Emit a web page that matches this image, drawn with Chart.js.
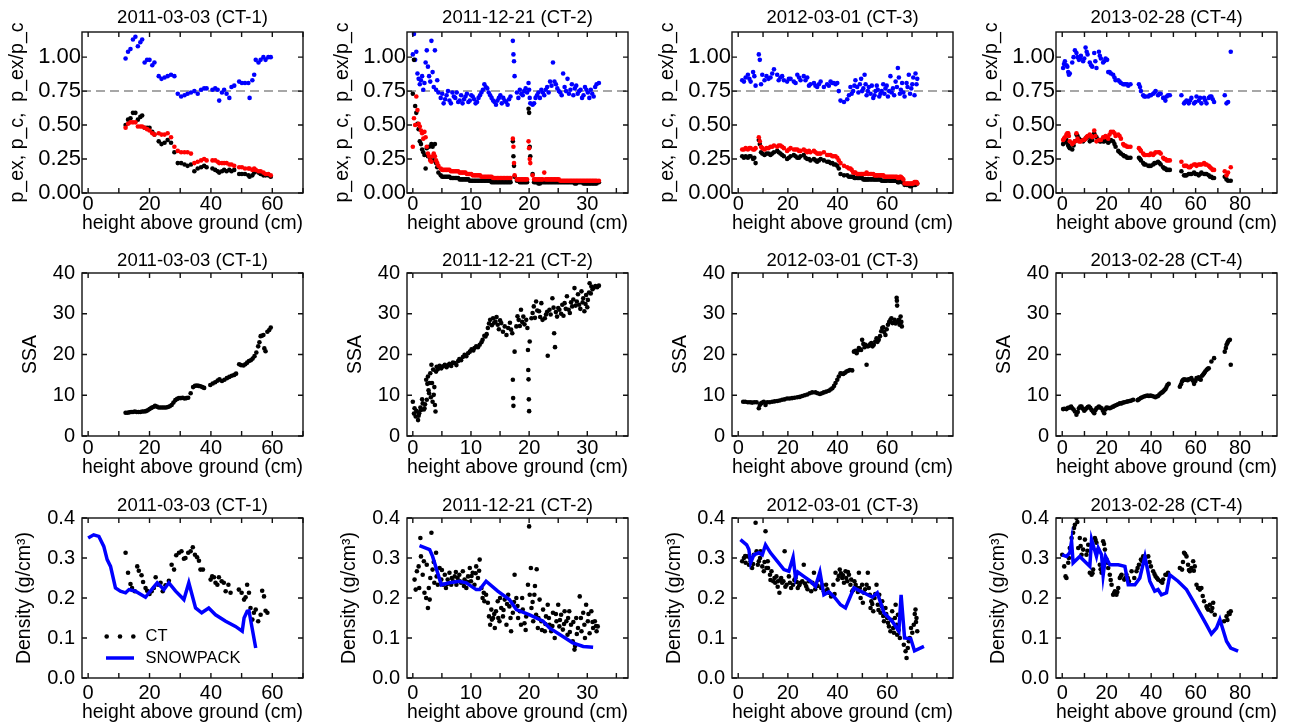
<!DOCTYPE html>
<html>
<head>
<meta charset="utf-8">
<script src="https://cdn.jsdelivr.net/npm/chart.js@4.4.1/dist/chart.umd.min.js"></script>
<style>
  body { margin: 0; background: #fff; width: 1292px; height: 728px; position: relative; overflow: hidden; }
  canvas { position: absolute; }
</style>
</head>
<body>
<script>
// ---- panel titles / axis texts
var panelTitles = ['2011-03-03 (CT-1)', '2011-12-21 (CT-2)', '2012-03-01 (CT-3)', '2013-02-28 (CT-4)'];
var xTitle = 'height above ground (cm)';
var yTitles = ['p_ex, p_c,  p_ex/p_c', 'SSA', 'Density (g/cm\u00b3)'];

// ---- tick values
var xTicks = [
    [0, 10, 20, 30, 40, 50, 60, 70],
    [0, 5, 10, 15, 20, 25, 30, 35],
    [0, 10, 20, 30, 40, 50, 60, 70, 80],
    [0, 10, 20, 30, 40, 50, 60, 70, 80, 90]
];
var xLabels = [[0, 20, 40, 60], [0, 10, 20, 30], [0, 20, 40, 60], [0, 20, 40, 60, 80]];
var xRanges = [[-2, 70], [-1, 37], [-2.5, 86.5], [-2.8, 96.6]];
var yTicksRatio = [0, 0.25, 0.5, 0.75, 1.0];
var yTicksSSA = [0, 10, 20, 30, 40];
var yTicksDens = [0, 0.1, 0.2, 0.3, 0.4];
var refRatio = 0.75;

// ---- row 1: [height, p_ex, p_c, p_ex/p_c]
var ct1Rows = [
    [12.2,.50,.48,.99],[13.0,.54,.51,1.04],[13.8,.55,.52,1.06],[14.6,.59,.52,1.13],[15.4,.59,.52,1.15],
    [16.2,.54,.49,1.08],[17.0,.56,.49,1.11],[17.6,.57,.49,1.13],[18.4,.48,.48,.96],[19.2,.48,.47,.98],
    [20.0,.48,.46,.98],[20.9,.45,.44,.94],[21.6,.43,.43,.96],[23.0,.38,.44,.86],[23.9,.36,.43,.84],
    [24.9,.37,.43,.85],[25.9,.39,.44,.86],[27.0,.37,.41,.87],[28.1,.30,.34,.86],[29.2,.22,.31,.73],
    [30.3,.22,.30,.71],[31.4,.21,.30,.72],[32.4,.20,.30,.73],[33.5,.21,.29,.74],[34.6,.16,.22,.75],
    [35.7,.18,.23,.73],[36.8,.19,.24,.76],[37.8,.20,.25,.77],[38.6,.19,.24,.77],[40.5,.18,.24,.76],
    [41.4,.17,.24,.77],[42.2,.16,.23,.76],[42.7,.15,.22,.68],[43.6,.16,.22,.74],[44.3,.17,.22,.76],
    [45.1,.16,.22,.73],[46.0,.17,.21,.70],[46.7,.16,.21,.78],[47.6,.17,.20,.79],[49.2,.14,.19,.82],
    [50.1,.14,.19,.81],[51.1,.14,.18,.81],[52.2,.13,.18,.81],[52.6,.12,.18,.70],[53.5,.13,.17,.83],
    [54.1,.15,.18,.87],[54.6,.16,.17,.98],[55.5,.15,.16,.96],[56.2,.14,.16,.98],[57.1,.13,.15,1.00],
    [57.8,.13,.14,.98],[58.7,.13,.14,1.00],[59.5,.12,.13,1.00]
];
var ct2Rows = [
    [0.0,.73,.34,1.02],[0.2,.98,.55,1.17],[0.4,.64,.50,.98],[0.6,.59,.71,1.04],[0.8,.51,.61,.88],
    [1.0,.47,.51,.84],[1.2,.38,.49,.80],[1.4,.36,.46,.83],[1.6,.32,.44,.86],[1.8,.30,.40,.76],
    [2.0,.28,.45,.81],[2.2,.18,.41,.96],[2.4,.33,.34,1.05],[2.6,.27,.29,.93],[2.8,.34,.27,.86],
    [3.0,.25,.24,.82],[3.2,.36,.23,1.12],[3.4,.34,.27,.89],[3.6,.24,.29,.78],[3.8,.36,.27,1.05],
    [4.0,.22,.24,.76],[4.2,.19,.22,.83],[4.4,.15,.20,.74],[4.8,.13,.18,.70],[5.3,.12,.17,.66],
    [5.8,.12,.17,.72],[6.3,.12,.17,.68],[6.8,.11,.16,.74],[7.3,.11,.16,.70],[7.8,.11,.16,.67],
    [8.3,.10,.15,.72],[8.8,.10,.15,.69],[9.3,.10,.14,.73],[9.8,.09,.14,.68],[10.3,.09,.13,.71],
    [10.8,.09,.13,.66],[11.3,.09,.13,.70],[11.8,.09,.12,.74],[12.3,.09,.12,.80],[12.8,.09,.12,.77],
    [13.3,.09,.12,.72],[13.8,.08,.11,.68],[14.3,.08,.11,.65],[14.8,.08,.11,.70],[15.3,.08,.11,.66],
    [15.8,.08,.11,.68],[16.3,.08,.11,.65],[16.8,.08,.11,.71],[17.2,.38,.40,1.12],[17.3,.27,.34,1.02],
    [17.4,.20,.22,.97],[17.5,.12,.13,.86],[17.9,.09,.10,.74],[18.4,.08,.10,.76],[18.9,.08,.10,.72],
    [19.4,.08,.10,.77],[19.9,.62,.38,.81],[20.0,.59,.33,.76],[20.1,.34,.25,.70],[20.2,.27,.22,.66],
    [20.6,.14,.13,.65],[21.1,.08,.10,.70],[21.6,.07,.10,.74],[22.1,.08,.10,.76],[22.6,.08,.15,.72],
    [23.1,.08,.10,.78],[23.6,.08,.10,.82],[24.1,.08,.10,.96],[24.6,.08,.10,.80],[25.1,.08,.10,.75],
    [25.6,.08,.09,.72],[26.1,.08,.09,.78],[26.6,.08,.09,.84],[27.1,.08,.09,.76],[27.6,.08,.09,.72],
    [28.1,.07,.09,.79],[28.6,.08,.09,.75],[29.1,.08,.09,.70],[29.6,.07,.09,.78],[30.1,.07,.09,.74],
    [30.6,.07,.09,.76],[31.1,.07,.09,.71],[31.6,.07,.09,.80],[32.0,.08,.09,.81],
    [5.05,.12,.17,.73],[5.55,.12,.17,.69],[6.05,.12,.17,.75],[6.55,.11,.16,.66],[7.05,.11,.16,.71],
    [7.55,.11,.16,.74],[8.05,.10,.15,.68],[8.55,.10,.15,.66],[9.05,.10,.15,.71],[9.55,.10,.14,.67],
    [10.05,.09,.14,.72],[10.55,.09,.13,.69],[11.05,.09,.13,.67],[11.55,.09,.13,.72],[12.05,.09,.12,.76],
    [12.55,.09,.12,.78],[13.05,.09,.12,.74],[13.55,.08,.12,.70],[14.05,.08,.11,.67],[14.55,.08,.11,.68],
    [15.05,.08,.11,.72],[15.55,.08,.11,.70],[16.05,.08,.11,.67],[16.55,.08,.11,.69],[18.15,.09,.10,.70],
    [18.65,.08,.10,.73],[19.15,.08,.10,.75],[19.65,.08,.10,.74],[20.85,.08,.10,.66],[21.35,.08,.10,.72],
    [21.85,.07,.10,.70],[22.35,.08,.10,.74],[22.85,.08,.10,.76],[23.35,.08,.10,.74],[23.85,.08,.10,.79],
    [24.35,.08,.10,.82],[24.85,.08,.10,.77],[25.35,.08,.09,.74],[25.85,.08,.09,.88],[26.35,.08,.09,.75],
    [26.85,.08,.09,.73],[27.35,.08,.09,.80],[27.85,.07,.09,.77],[28.35,.08,.09,.73],[28.85,.08,.09,.76],
    [29.35,.07,.09,.72],[29.85,.07,.09,.76],[30.35,.07,.09,.70],[30.85,.07,.09,.73],[31.35,.07,.09,.78]
];
var ct3Rows = [
    [1.6,.27,.32,.83],[3.0,.27,.33,.85],[3.9,.26,.32,.87],[5.0,.27,.33,.82],[6.0,.25,.32,.89],
    [7.0,.22,.33,.79],[8.3,.39,.41,1.02],[8.7,.36,.38,.98],[9.7,.29,.33,.87],[10.6,.28,.32,.83],
    [11.4,.29,.33,.86],[13.0,.28,.34,.85],[14.4,.30,.35,.91],[15.7,.31,.34,.87],[17.0,.29,.35,.85],
    [18.4,.27,.33,.83],[19.7,.25,.31,.82],[21.1,.27,.33,.84],[22.4,.28,.32,.82],[23.8,.26,.32,.87],
    [25.1,.27,.31,.83],[26.4,.28,.32,.86],[27.8,.25,.30,.85],[29.1,.24,.30,.80],[30.5,.25,.31,.81],
    [31.8,.23,.29,.78],[33.2,.25,.29,.82],[34.5,.24,.30,.78],[35.8,.23,.28,.80],[37.2,.22,.28,.82],
    [38.5,.21,.27,.81],[39.9,.20,.26,.81],[40.5,.18,.24,.75],[41.2,.14,.22,.68],[42.6,.13,.20,.67],
    [43.9,.13,.19,.69],[44.6,.12,.18,.72],[45.2,.12,.18,.78],[46.3,.12,.15,.75],[47.2,.11,.15,.83],
    [47.9,.11,.14,.78],[49.0,.11,.14,.80],[49.9,.11,.14,.75],[50.9,.10,.14,.87],[51.7,.10,.15,.72],
    [52.6,.10,.14,.78],[53.3,.10,.14,.73],[54.4,.10,.14,.70],[55.3,.10,.13,.75],[56.2,.10,.13,.76],
    [57.3,.10,.13,.73],[58.4,.09,.13,.80],[59.3,.09,.12,.77],[60.3,.10,.12,.71],[61.3,.09,.12,.86],
    [62.3,.09,.12,.77],[63.4,.09,.12,.82],[64.3,.08,.11,.92],[65.1,.09,.12,.73],[66.0,.08,.11,.81],
    [67.0,.06,.07,.71],[67.8,.06,.07,.81],[68.7,.06,.07,.87],[69.7,.05,.07,.77],[70.5,.06,.07,.85],
    [71.4,.06,.08,.88],[72.1,.07,.07,.84],
    [45.7,.12,.17,.73],[46.8,.11,.15,.79],[48.4,.11,.14,.74],[49.5,.11,.14,.84],[50.4,.10,.14,.77],
    [51.3,.10,.14,.80],[52.2,.10,.14,.75],[53.8,.10,.14,.79],[54.9,.10,.13,.72],[55.8,.10,.13,.79],
    [56.8,.10,.13,.71],[57.8,.09,.13,.75],[58.9,.09,.12,.73],[59.8,.09,.12,.79],[60.8,.09,.12,.75],
    [61.8,.09,.12,.74],[62.8,.09,.12,.72],[63.9,.09,.12,.78],[64.7,.08,.11,.85],[65.5,.09,.12,.76],
    [66.5,.08,.10,.74],[68.2,.06,.07,.78],[69.2,.05,.07,.73],[70.1,.06,.07,.80],[71.0,.06,.08,.72],
    [71.8,.07,.08,.80],[2.3,.26,.32,.82],[4.5,.27,.33,.84],[6.5,.26,.32,.86],[9.2,.30,.34,.80],
    [12.2,.29,.33,.84],[13.7,.29,.34,.88],[16.3,.30,.35,.83],[17.7,.28,.34,.86],[20.4,.26,.32,.84],
    [23.1,.27,.32,.81],[24.5,.26,.31,.85],[27.1,.26,.31,.83],[28.5,.25,.31,.79],[31.1,.24,.30,.79],
    [32.5,.24,.29,.80],[36.5,.23,.28,.79],[37.9,.22,.27,.81],[39.2,.21,.27,.80]
];
var ct4Rows = [
    [0.4,.36,.39,.92],[1.2,.38,.41,.97],[1.9,.39,.43,.94],[2.7,.35,.44,.89],[3.4,.33,.38,.88],
    [4.5,.32,.36,.96],[5.7,.38,.38,1.05],[6.4,.43,.44,1.03],[7.5,.40,.38,.98],[8.4,.39,.38,1.01],
    [9.4,.38,.39,.97],[10.5,.40,.40,1.07],[11.4,.41,.42,1.02],[12.4,.38,.43,.96],[13.5,.39,.41,.93],
    [14.4,.44,.46,1.03],[15.4,.41,.38,.92],[16.5,.39,.39,1.04],[17.4,.38,.39,.99],[18.4,.38,.41,.96],
    [19.5,.39,.42,.99],[20.7,.37,.40,.89],[21.9,.39,.45,.88],[22.9,.38,.45,.87],[24.0,.34,.42,.83],
    [25.2,.31,.43,.83],[26.4,.29,.40,.81],[27.4,.28,.36,.80],[28.5,.27,.35,.80],[29.7,.26,.34,.79],
    [30.7,.26,.34,.80],[34.5,.26,.33,.80],[35.4,.24,.31,.75],[36.4,.22,.29,.72],[37.5,.21,.28,.71],
    [38.7,.20,.28,.71],[39.9,.20,.29,.72],[40.9,.21,.28,.73],[42.0,.22,.30,.75],[43.1,.23,.30,.72],
    [44.3,.21,.29,.73],[45.4,.19,.26,.70],[46.4,.18,.25,.68],[47.6,.17,.24,.72],[48.4,.17,.24,.72],
    [53.6,.16,.23,.72],[54.8,.13,.20,.66],[55.9,.13,.20,.68],[56.9,.14,.19,.66],[58.1,.14,.20,.70],
    [59.3,.15,.21,.66],[60.4,.14,.20,.71],[61.4,.13,.21,.68],[62.6,.15,.21,.66],[63.8,.14,.22,.70],
    [64.9,.14,.21,.66],[65.9,.13,.20,.70],[67.1,.12,.18,.71],[68.3,.11,.17,.67],[73.1,.12,.16,.72],
    [73.9,.10,.13,.66],[74.6,.09,.15,.67],[75.8,.09,.19,1.04],
    [0.8,.37,.40,.95],[2.3,.37,.44,.93],[3.0,.34,.42,.87],[5.1,.35,.37,1.00],[6.9,.42,.40,1.00],
    [8.0,.39,.38,.99],[9.9,.39,.39,.99],[11.0,.41,.41,1.04],[13.0,.39,.42,.94],[14.9,.42,.42,.97],
    [16.9,.38,.39,1.01],[18.9,.38,.41,.97],[20.2,.38,.41,.98],[21.3,.38,.43,.89],[23.5,.36,.44,.85],
    [25.8,.30,.42,.82],[27.9,.27,.35,.80],[29.2,.26,.34,.80],[35.0,.25,.32,.78],[36.9,.21,.28,.71],
    [39.3,.20,.28,.72],[41.5,.22,.29,.74],[43.7,.22,.30,.73],[45.9,.18,.25,.70],[47.0,.17,.24,.71],
    [55.3,.13,.20,.67],[57.5,.14,.19,.68],[59.9,.14,.21,.67],[62.0,.14,.21,.70],[64.3,.14,.21,.68],
    [66.5,.12,.19,.71],[67.7,.11,.17,.69]
];

// ---- row 2: [height, SSA]
var ssa1 = [[12.2,5.7],[12.8,5.7],[13.4,5.8],[14.0,5.9],[14.6,5.9],[15.2,6.0],[15.8,5.9],[16.4,5.9],[17.0,5.9],[17.6,6.0],[18.2,6.0],[18.8,6.1],[19.4,6.3],[20.0,6.6],[20.6,6.9],[21.2,7.1],[21.8,7.4],[22.4,7.2],[23.0,7.0],[23.6,7.0],[24.2,7.0],[24.8,7.0],[25.4,7.0],[26.0,7.1],[26.6,7.3],[27.2,7.6],[27.8,8.2],[28.4,8.8],[29.0,9.1],[29.6,9.3],[30.2,9.3],[30.8,9.4],[31.4,9.2],[32.0,9.3],[32.6,9.4],[33.4,10.5],[34.2,12.0],[34.8,12.3],[35.4,12.4],[36.0,12.3],[36.6,12.2],[37.2,12.0],[37.8,11.8],[39.8,12.5],[40.6,12.9],[41.4,13.2],[42.2,13.6],[42.8,13.9],[43.6,13.5],[44.4,13.8],[45.2,14.2],[46.0,14.5],[46.8,14.8],[47.6,15.0],[48.2,15.3],[49.2,17.6],[49.8,17.4],[50.6,17.3],[51.2,17.6],[51.8,18.0],[52.4,18.4],[53.0,18.6],[53.6,19.0],[54.2,19.6],[54.8,20.5],[55.4,22.0],[55.8,23.0],[56.2,24.5],[56.6,24.6],[57.1,24.8],[57.4,21.5],[57.8,20.8],[58.4,25.6],[59.0,26.0],[59.5,26.6]];
var ssa2 = [[0.0,8.4],[0.2,5.5],[0.3,6.8],[0.5,4.8],[0.6,6.2],[0.7,6.0],[0.9,3.9],[1.0,5.0],[1.1,5.6],[1.3,7.0],[1.4,6.4],[1.6,9.0],[1.7,8.0],[1.9,6.5],[2.0,6.8],[2.1,7.8],[2.3,13.8],[2.4,8.9],[2.5,12.8],[2.6,14.6],[2.7,11.2],[2.8,10.5],[2.9,13.0],[3.0,15.4],[3.1,9.5],[3.2,17.5],[3.3,13.0],[3.4,8.4],[3.5,16.3],[3.6,10.1],[3.7,12.0],[3.8,7.6],[3.9,6.0],[4.0,15.8],[4.1,17.0],[4.3,16.4],[4.6,17.2],[4.9,16.6],[5.2,17.1],[5.5,17.5],[5.8,16.9],[6.1,17.4],[6.3,17.7],[6.6,17.2],[6.9,18.0],[7.2,17.9],[7.5,17.4],[7.8,18.4],[8.0,18.9],[8.3,18.6],[8.6,19.4],[8.9,19.9],[9.2,19.6],[9.5,20.3],[9.8,20.7],[10.1,21.3],[10.4,21.0],[10.6,21.6],[10.9,22.0],[11.2,21.8],[11.5,22.4],[11.8,23.0],[12.0,23.6],[12.3,24.6],[12.5,24.4],[12.7,25.0],[12.9,26.5],[13.1,27.6],[13.3,28.5],[13.6,27.2],[13.8,28.9],[14.0,27.8],[14.2,28.1],[14.4,29.2],[14.6,27.3],[14.8,26.2],[15.0,28.4],[15.2,27.7],[15.5,25.6],[15.8,26.9],[16.1,24.8],[16.4,26.5],[16.7,27.8],[16.9,26.1],[17.1,25.2],[17.2,13.8],[17.25,9.3],[17.3,7.4],[17.5,20.7],[17.8,26.9],[18.0,29.4],[18.2,28.5],[18.4,27.0],[18.6,31.0],[18.8,28.0],[19.0,29.3],[19.2,27.4],[19.5,28.5],[19.7,26.5],[19.8,21.1],[19.85,16.2],[19.9,13.9],[19.95,9.0],[20.0,6.1],[20.1,23.2],[20.4,28.9],[20.6,30.2],[20.8,31.8],[21.0,29.0],[21.2,33.0],[21.4,30.8],[21.7,30.6],[21.9,29.2],[22.1,32.6],[22.3,28.5],[22.7,28.9],[22.9,29.8],[23.1,30.5],[23.2,19.7],[23.5,31.0],[23.7,29.8],[24.0,33.8],[24.2,31.5],[24.3,25.2],[24.45,21.8],[24.6,30.4],[24.8,29.3],[25.0,31.4],[25.2,31.0],[25.5,30.0],[25.7,32.2],[25.9,29.5],[26.1,32.6],[26.3,31.2],[26.5,34.3],[26.8,31.0],[27.0,30.2],[27.2,32.8],[27.4,31.8],[27.6,33.5],[27.8,36.3],[28.0,32.0],[28.2,33.0],[28.4,34.8],[28.6,32.2],[28.8,31.2],[29.0,35.5],[29.2,32.8],[29.3,33.8],[29.5,30.6],[29.7,32.4],[29.8,34.6],[30.0,31.6],[30.1,33.4],[30.3,35.2],[30.4,37.5],[30.6,35.0],[30.7,36.7],[30.9,36.0],[31.1,36.4],[31.4,36.8],[31.7,36.5],[32.0,36.9]];
var ssa3 = [[2.0,8.4],[2.8,8.4],[3.9,8.3],[4.8,8.3],[5.6,8.2],[6.5,8.3],[7.4,8.3],[8.3,6.8],[8.7,7.6],[9.2,8.0],[9.7,8.2],[10.3,8.4],[11.0,7.6],[11.7,8.3],[12.7,8.3],[13.7,8.4],[14.7,8.5],[15.7,8.6],[16.7,8.7],[17.7,8.9],[18.7,9.0],[19.7,9.2],[20.7,9.2],[21.7,9.3],[22.7,9.4],[23.8,9.5],[24.8,9.6],[25.8,9.8],[26.8,10.0],[27.8,10.2],[28.8,10.5],[29.8,10.7],[31.1,10.7],[32.0,10.5],[32.9,10.3],[33.7,10.5],[34.5,10.7],[35.5,10.9],[36.5,11.1],[37.2,11.4],[37.9,11.7],[38.6,12.3],[39.2,13.0],[39.9,13.8],[40.5,14.6],[41.2,15.4],[41.8,15.3],[42.3,15.2],[43.0,15.5],[43.6,15.8],[44.3,16.0],[45.0,16.2],[45.9,16.1],[46.6,20.7],[47.2,20.9],[47.7,20.3],[48.2,21.0],[48.6,21.6],[49.1,21.3],[49.5,21.1],[49.9,23.6],[50.4,22.6],[50.9,21.8],[51.3,22.4],[51.7,17.5],[52.2,22.0],[52.6,22.1],[53.1,22.5],[53.6,22.8],[54.1,22.0],[54.6,22.4],[55.2,23.2],[55.7,24.0],[56.1,23.1],[56.6,23.6],[57.1,24.5],[57.6,25.7],[58.0,26.5],[58.4,26.7],[58.8,25.5],[59.3,24.8],[59.8,26.2],[60.3,27.3],[60.8,28.0],[61.3,28.5],[61.7,28.9],[62.1,27.7],[62.6,27.8],[63.0,28.5],[63.4,27.6],[63.8,33.9],[63.9,33.2],[64.0,32.0],[64.3,28.0],[64.7,28.5],[65.0,27.3],[65.4,29.3],[65.7,28.0],[65.9,26.9]];
var ssa4 = [[0.4,6.6],[1.1,6.7],[1.9,6.6],[2.6,6.9],[3.4,7.0],[4.0,7.2],[4.5,6.8],[5.1,6.5],[5.7,6.0],[6.4,5.2],[7.0,5.9],[7.5,6.8],[8.1,7.2],[8.7,7.2],[9.3,6.7],[9.9,6.2],[10.4,6.5],[10.9,6.8],[11.5,7.1],[12.0,7.2],[12.6,6.9],[13.2,6.4],[13.8,6.0],[14.4,5.6],[14.9,6.3],[15.4,6.8],[16.0,7.0],[16.5,7.2],[17.1,7.0],[17.7,6.8],[18.3,6.2],[18.9,5.6],[19.4,6.5],[19.9,7.0],[20.6,6.9],[21.4,6.8],[22.1,7.0],[22.9,7.2],[23.6,7.4],[24.4,7.6],[25.1,7.8],[25.9,8.0],[26.6,8.0],[27.4,8.2],[28.1,8.3],[28.9,8.4],[29.6,8.5],[30.4,8.6],[31.1,8.7],[31.9,8.9],[33.9,8.8],[34.5,9.0],[35.3,9.3],[36.0,9.5],[36.8,9.7],[37.5,9.8],[38.3,9.9],[39.0,9.8],[39.7,9.9],[40.4,9.8],[41.2,9.7],[41.9,9.5],[42.5,9.7],[43.1,9.8],[43.7,10.2],[44.3,10.5],[44.9,10.7],[45.4,10.9],[45.9,11.2],[46.4,11.5],[46.9,12.0],[47.3,12.5],[47.9,12.8],[52.9,12.1],[53.4,12.7],[53.9,13.4],[54.3,13.7],[54.8,13.9],[55.4,13.8],[55.9,13.8],[56.4,13.7],[56.9,13.9],[57.5,14.0],[58.1,14.2],[58.7,13.6],[59.3,12.8],[59.9,13.5],[60.4,14.2],[60.9,14.1],[61.4,14.4],[61.9,14.0],[62.3,13.8],[62.9,14.8],[63.4,15.1],[63.8,15.4],[64.3,15.8],[64.9,16.2],[65.4,16.5],[65.9,16.6],[67.1,18.3],[68.3,19.1],[73.1,20.7],[73.6,21.6],[73.9,22.4],[74.3,22.8],[74.6,23.2],[75.0,23.5],[75.4,23.6],[75.8,17.5]];

// ---- row 3: CT density [height, g/cm3] and SNOWPACK density
var dens1 = [[12.2,0.313],[13.0,0.263],[13.8,0.235],[14.3,0.225],[15.2,0.217],[16.0,0.279],[16.5,0.268],[17.4,0.257],[17.9,0.240],[18.7,0.225],[19.2,0.218],[20.0,0.210],[20.7,0.217],[21.4,0.225],[22.0,0.252],[22.8,0.233],[23.6,0.238],[24.3,0.217],[25.2,0.232],[26.3,0.243],[27.2,0.283],[28.0,0.271],[28.7,0.307],[29.6,0.313],[30.4,0.317],[31.2,0.298],[31.7,0.300],[32.6,0.313],[33.4,0.317],[34.1,0.327],[34.8,0.308],[35.5,0.302],[36.1,0.293],[36.6,0.271],[37.4,0.271],[39.9,0.246],[40.4,0.254],[41.0,0.252],[41.5,0.238],[42.1,0.233],[42.6,0.252],[43.5,0.242],[44.2,0.238],[44.8,0.217],[45.7,0.233],[46.4,0.213],[49.1,0.221],[50.0,0.213],[50.8,0.196],[51.3,0.202],[51.8,0.233],[52.4,0.213],[52.9,0.175],[53.5,0.146],[54.0,0.163],[54.6,0.171],[55.4,0.142],[56.2,0.158],[56.7,0.218],[57.3,0.204],[57.8,0.168],[58.4,0.163]];
var snow1 = [[0,0.350],[1.8,0.358],[3.5,0.354],[5.1,0.329],[6.2,0.296],[7.3,0.279],[8.9,0.225],[10.5,0.217],[12.2,0.213],[13.3,0.221],[15.4,0.217],[18.7,0.202],[19.8,0.213],[22.5,0.238],[24.7,0.221],[26.3,0.238],[28.5,0.217],[31.2,0.196],[32.8,0.238],[35.0,0.175],[37.0,0.163],[39.3,0.175],[41.5,0.158],[44.8,0.142],[48.0,0.129],[50.2,0.117],[50.8,0.150],[51.8,0.167],[52.4,0.168],[54.6,0.075]];
var dens2 = [[0.3,0.246],[0.5,0.221],[0.7,0.267],[1.0,0.279],[1.3,0.350],[1.4,0.304],[1.7,0.258],[2.0,0.213],[2.3,0.200],[2.4,0.283],[2.6,0.175],[2.75,0.225],[3.0,0.250],[3.2,0.363],[3.4,0.271],[3.7,0.238],[4.0,0.313],[4.1,0.254],[4.3,0.233],[4.6,0.275],[4.9,0.246],[5.2,0.233],[5.5,0.258],[5.7,0.225],[6.0,0.246],[6.3,0.263],[6.6,0.233],[6.9,0.242],[7.2,0.254],[7.5,0.233],[7.7,0.250],[8.0,0.258],[8.3,0.238],[8.6,0.267],[8.9,0.246],[9.2,0.225],[9.5,0.254],[9.8,0.275],[10.0,0.242],[10.3,0.263],[10.6,0.233],[10.9,0.279],[11.2,0.250],[11.5,0.296],[11.8,0.225],[12.0,0.200],[12.3,0.192],[12.6,0.208],[12.9,0.188],[13.1,0.154],[13.3,0.133],[13.5,0.171],[13.8,0.150],[14.1,0.125],[14.3,0.167],[14.6,0.192],[14.9,0.142],[15.2,0.175],[15.5,0.154],[15.8,0.196],[16.1,0.133],[16.4,0.208],[16.6,0.179],[16.9,0.117],[17.2,0.163],[17.5,0.258],[17.8,0.200],[18.1,0.150],[18.4,0.167],[18.6,0.133],[18.9,0.171],[19.2,0.137],[19.5,0.154],[19.8,0.233],[20.0,0.379],[20.1,0.208],[20.3,0.275],[20.4,0.175],[20.7,0.142],[20.9,0.208],[21.2,0.158],[21.5,0.125],[21.8,0.196],[22.1,0.142],[22.4,0.171],[22.7,0.117],[22.9,0.154],[23.2,0.183],[23.5,0.133],[23.8,0.117],[24.1,0.163],[24.4,0.100],[24.7,0.142],[25.0,0.183],[25.2,0.129],[25.5,0.158],[25.8,0.121],[26.1,0.167],[26.4,0.142],[26.6,0.108],[26.9,0.167],[27.2,0.133],[27.5,0.092],[27.8,0.071],[28.1,0.150],[28.4,0.125],[28.7,0.204],[29.0,0.117],[29.3,0.163],[29.5,0.133],[29.8,0.183],[30.1,0.142],[30.4,0.112],[30.7,0.167],[31.0,0.125],[31.3,0.142],[31.6,0.117],[31.8,0.129],
    [1.1,0.225],[1.9,0.292],[2.9,0.196],[3.6,0.290],[5.0,0.270],[5.9,0.235],[6.7,0.250],[7.4,0.265],[8.1,0.242],[8.8,0.230],[9.4,0.240],[10.1,0.255],[10.8,0.262],[11.4,0.268],[12.2,0.213],[13.6,0.146],[14.0,0.160],[14.7,0.150],[15.0,0.200],[15.6,0.170],[16.2,0.185],[16.8,0.150],[17.4,0.190],[18.0,0.180],[18.8,0.200],[19.4,0.120],[20.6,0.190],[21.0,0.230],[21.6,0.150],[22.2,0.120],[22.8,0.135],[23.4,0.150],[24.0,0.130],[24.6,0.160],[25.3,0.145],[26.0,0.135],[26.7,0.150],[27.0,0.115],[27.6,0.140],[28.2,0.110],[28.9,0.150],[29.6,0.100],[30.2,0.160],[30.9,0.140],[31.5,0.130],[27.9,0.080],[21.3,0.272]];
var snow2 = [[1.15,0.331],[2.9,0.321],[3.4,0.304],[4.9,0.233],[6.3,0.238],[8.0,0.242],[9.2,0.238],[10.9,0.221],[11.5,0.221],[12.6,0.242],[14.6,0.217],[16.6,0.196],[17.8,0.171],[20.1,0.158],[22.4,0.142],[23.5,0.125],[25.8,0.104],[27.5,0.088],[29.3,0.079],[31.0,0.077]];
var dens3 = [[1.6,0.292],[2.3,0.300],[3.0,0.288],[3.6,0.304],[4.3,0.283],[5.0,0.292],[5.6,0.275],[6.3,0.308],[7.0,0.388],[7.4,0.317],[7.9,0.283],[8.3,0.292],[9.0,0.317],[9.7,0.279],[10.3,0.267],[11.0,0.367],[11.4,0.275],[11.9,0.292],[12.8,0.258],[13.4,0.267],[14.1,0.242],[14.6,0.250],[15.4,0.254],[16.0,0.242],[16.6,0.213],[17.3,0.250],[17.7,0.238],[18.7,0.317],[19.5,0.233],[20.4,0.254],[21.3,0.225],[22.1,0.233],[23.1,0.250],[24.0,0.225],[25.1,0.238],[25.8,0.242],[26.4,0.283],[27.4,0.229],[28.5,0.242],[29.4,0.217],[30.5,0.263],[31.5,0.233],[32.5,0.246],[33.4,0.225],[34.5,0.217],[35.4,0.233],[36.5,0.213],[37.4,0.204],[38.3,0.233],[39.2,0.263],[40.1,0.246],[40.9,0.271],[41.9,0.250],[42.6,0.238],[43.2,0.267],[43.9,0.242],[44.6,0.258],[45.2,0.233],[45.9,0.217],[46.8,0.242],[47.9,0.225],[48.6,0.263],[49.3,0.200],[49.9,0.233],[50.6,0.213],[51.7,0.233],[52.2,0.263],[53.0,0.208],[53.6,0.192],[54.4,0.167],[54.9,0.200],[55.7,0.233],[56.2,0.183],[56.8,0.208],[57.3,0.163],[58.0,0.192],[58.7,0.142],[59.3,0.175],[60.0,0.150],[60.7,0.129],[61.3,0.117],[62.0,0.167],[62.7,0.113],[63.4,0.183],[63.8,0.133],[64.3,0.158],[65.1,0.100],[66.7,0.083],[67.4,0.067],[67.8,0.050],[68.3,0.075],[68.7,0.092],[70.1,0.113],[70.7,0.133],[71.4,0.171],[71.8,0.150],[72.1,0.117],
    [2.8,0.305],[4.8,0.300],[6.0,0.285],[8.8,0.300],[10.6,0.290],[12.0,0.275],[13.0,0.245],[14.9,0.238],[15.9,0.228],[16.9,0.245],[18.2,0.242],[19.0,0.228],[20.8,0.238],[22.6,0.245],[23.6,0.240],[24.6,0.232],[26.9,0.236],[27.9,0.222],[29.9,0.238],[31.0,0.222],[32.0,0.230],[33.9,0.232],[35.9,0.222],[38.8,0.210],[40.5,0.255],[41.4,0.262],[42.2,0.257],[43.5,0.250],[44.2,0.265],[45.5,0.246],[46.3,0.220],[47.3,0.233],[48.2,0.215],[49.0,0.225],[50.2,0.188],[51.1,0.222],[52.6,0.225],[53.3,0.175],[54.0,0.185],[55.2,0.210],[56.5,0.170],[57.7,0.180],[58.4,0.155],[59.6,0.160],[60.3,0.138],[61.7,0.145],[62.4,0.125],[63.1,0.150],[64.0,0.108],[64.6,0.120],[69.1,0.100],[69.6,0.125],[71.1,0.160],[71.6,0.140]];
var snow3 = [[0.9,0.346],[3.4,0.333],[4.3,0.321],[5.0,0.288],[6.3,0.308],[8.3,0.313],[9.7,0.308],[11.0,0.333],[13.0,0.313],[15.7,0.292],[18.4,0.271],[20.4,0.267],[22.1,0.302],[23.1,0.250],[24.0,0.265],[26.4,0.254],[29.1,0.242],[31.1,0.229],[32.9,0.265],[34.5,0.208],[36.5,0.215],[38.5,0.204],[41.2,0.183],[43.2,0.175],[46.6,0.225],[50.6,0.213],[54.0,0.202],[56.0,0.213],[58.7,0.163],[62.0,0.142],[64.7,0.117],[65.6,0.208],[67.0,0.100],[69.5,0.098],[71.0,0.068],[74.8,0.079]];
var dens4 = [[0.0,0.308],[0.9,0.279],[1.5,0.254],[1.9,0.250],[2.7,0.288],[3.4,0.325],[4.2,0.350],[4.9,0.363],[5.7,0.383],[6.4,0.400],[7.2,0.325],[7.9,0.350],[8.7,0.308],[9.4,0.321],[10.2,0.346],[10.9,0.308],[11.7,0.333],[12.4,0.263],[13.2,0.258],[13.9,0.271],[14.7,0.350],[15.4,0.338],[16.2,0.321],[16.9,0.283],[17.7,0.263],[18.4,0.342],[19.2,0.321],[19.9,0.296],[20.7,0.275],[21.4,0.258],[22.2,0.233],[22.9,0.208],[23.7,0.217],[24.4,0.208],[25.2,0.225],[25.9,0.250],[26.7,0.258],[27.9,0.246],[28.9,0.258],[30.0,0.242],[31.2,0.267],[32.4,0.250],[33.4,0.267],[34.5,0.283],[35.4,0.296],[36.4,0.304],[37.5,0.302],[38.7,0.304],[39.9,0.279],[40.9,0.267],[42.0,0.254],[43.1,0.246],[44.3,0.242],[45.4,0.246],[46.4,0.258],[47.6,0.263],[52.9,0.275],[53.9,0.271],[54.8,0.313],[55.9,0.304],[56.6,0.283],[57.4,0.267],[58.1,0.275],[58.9,0.292],[59.6,0.279],[60.4,0.233],[61.1,0.225],[61.9,0.221],[62.6,0.225],[63.8,0.192],[64.9,0.179],[65.6,0.171],[66.4,0.183],[67.1,0.167],[67.9,0.188],[68.6,0.158],[72.8,0.142],[73.9,0.154],[74.9,0.163],[75.8,0.167],
    [3.0,0.300],[5.3,0.375],[6.8,0.390],[8.3,0.330],[11.3,0.318],[13.6,0.262],[15.0,0.345],[17.3,0.272],[18.8,0.335],[20.3,0.288],[21.8,0.245],[23.3,0.212],[24.8,0.215],[26.3,0.254],[28.4,0.250],[29.5,0.250],[33.9,0.275],[36.0,0.292],[37.0,0.300],[39.3,0.290],[41.5,0.260],[42.6,0.250],[45.0,0.238],[47.0,0.258],[54.3,0.290],[55.3,0.310],[57.0,0.270],[59.2,0.268],[61.5,0.225],[63.2,0.205],[65.2,0.175],[67.5,0.175],[74.3,0.145],[75.3,0.160]];
var snow4 = [[0,0.308],[1.9,0.304],[3.4,0.313],[4.2,0.342],[4.9,0.288],[7.9,0.304],[12.4,0.279],[13.2,0.346],[15.4,0.304],[16.2,0.325],[17.7,0.308],[18.4,0.257],[19.5,0.304],[21.4,0.283],[25.2,0.283],[28.2,0.279],[29.7,0.233],[32.7,0.233],[34.9,0.250],[37.2,0.304],[39.4,0.242],[41.6,0.217],[43.1,0.221],[44.6,0.208],[46.9,0.213],[48.4,0.258],[52.1,0.242],[55.9,0.221],[58.9,0.192],[61.9,0.163],[64.9,0.133],[67.1,0.110],[69.4,0.125],[70.9,0.146],[73.9,0.092],[75.8,0.075],[79.1,0.067]];

// ---- layout
var FONT = '"Liberation Sans", Arial, Helvetica, sans-serif';
var BLUE = '#0000ff', RED = '#ff0000', BLACK = '#000000';
var YAXIS_W = 82, PAD_R = 12, TICK = 5;
var cols = [{l: 82, r: 303}, {l: 407, r: 628}, {l: 732, r: 953}, {l: 1056, r: 1277}];
var rows = [
    {t: 32, b: 193, min: 0, max: 1.185, ticks: yTicksRatio, dec: 2, tickSize: 22, yPad: 1, yTitlePad: 7, titlePad: 3, xPad: 1, xAxisH: 42},
    {t: 273, b: 436, min: 0, max: 40, ticks: yTicksSSA, dec: 0, tickSize: 20, yPad: 7, yTitlePad: 20, titlePad: 1, xPad: 2, xAxisH: 43},
    {t: 518, b: 678, min: 0, max: 0.4, ticks: yTicksDens, dec: 1, tickSize: 20, yPad: 7, yTitlePad: 14, titlePad: 1, xPad: 5, xAxisH: 46}
];

Chart.defaults.font.family = FONT;
Chart.defaults.color = '#000';

// box + inward ticks on all four sides
var framePlugin = {
    id: 'frame',
    afterDatasetsDraw: function (chart) {
        var ctx = chart.ctx, a = chart.chartArea, x = chart.scales.x, y = chart.scales.y;
        ctx.save();
        ctx.strokeStyle = '#111';
        ctx.lineWidth = 1.4;
        ctx.strokeRect(a.left, a.top, a.right - a.left, a.bottom - a.top);
        ctx.beginPath();
        x.ticks.forEach(function (t) {
            var px = x.getPixelForValue(t.value);
            ctx.moveTo(px, a.bottom); ctx.lineTo(px, a.bottom - TICK);
            ctx.moveTo(px, a.top); ctx.lineTo(px, a.top + TICK);
        });
        y.ticks.forEach(function (t) {
            var py = y.getPixelForValue(t.value);
            ctx.moveTo(a.left, py); ctx.lineTo(a.left + TICK, py);
            ctx.moveTo(a.right, py); ctx.lineTo(a.right - TICK, py);
        });
        ctx.stroke();
        ctx.restore();
    }
};

// legend drawn inside the plot area (first density panel only)
var innerLegend = {
    id: 'innerLegend',
    afterDatasetsDraw: function (chart) {
        var ctx = chart.ctx, a = chart.chartArea;
        var line = chart.data.datasets[0], dots = chart.data.datasets[1];
        var yDots = a.bottom - 41.5, yLine = a.bottom - 20;
        ctx.save();
        ctx.fillStyle = dots.backgroundColor;
        [24.7, 38, 51.3].forEach(function (dx) {
            ctx.beginPath();
            ctx.arc(a.left + dx, yDots, 2.3, 0, Math.PI * 2);
            ctx.fill();
        });
        ctx.strokeStyle = line.borderColor;
        ctx.lineWidth = line.borderWidth;
        ctx.beginPath();
        ctx.moveTo(a.left + 24, yLine);
        ctx.lineTo(a.left + 52, yLine);
        ctx.stroke();
        ctx.fillStyle = '#000';
        ctx.font = '16.5px ' + FONT;
        ctx.textAlign = 'left';
        ctx.textBaseline = 'middle';
        ctx.fillText(dots.label, a.left + 63.5, yDots);
        ctx.fillText(line.label, a.left + 63.5, yLine);
        ctx.restore();
    }
};

function pts(list, col) {
    return list.map(function (p) { return {x: p[0], y: p[col]}; });
}

function dots(label, data, color) {
    return {label: label, data: data, backgroundColor: color, borderWidth: 0, pointRadius: 2.3, pointHoverRadius: 2.3};
}

function makePanel(r, c, datasets, extra) {
    var R = rows[r], C = cols[c];
    var w = C.r - C.l, h = R.b - R.t;
    var canvas = document.createElement('canvas');
    canvas.width = w + YAXIS_W + PAD_R;
    canvas.height = 22 + R.titlePad + h + R.xAxisH;
    canvas.style.left = (C.l - YAXIS_W) + 'px';
    canvas.style.top = (R.t - 22 - R.titlePad) + 'px';
    document.body.appendChild(canvas);

    new Chart(canvas, {
        type: 'scatter',
        data: {datasets: datasets},
        options: {
            responsive: false,
            animation: false,
            events: [],
            layout: {padding: {left: 0, right: PAD_R, top: 0, bottom: 0}, autoPadding: false},
            plugins: {
                legend: {display: false},
                tooltip: {enabled: false},
                title: {
                    display: true, text: panelTitles[c], fullSize: false, color: '#000',
                    font: {size: 18.5, weight: 'normal', lineHeight: '22px'},
                    padding: {top: 0, bottom: R.titlePad}
                }
            },
            scales: {
                x: {
                    type: 'linear', min: xRanges[c][0], max: xRanges[c][1],
                    grid: {display: false, drawTicks: false}, border: {display: false},
                    afterBuildTicks: function (s) { s.ticks = xTicks[c].map(function (v) { return {value: v}; }); },
                    afterFit: function (s) { s.height = R.xAxisH; },
                    ticks: {
                        autoSkip: false, maxRotation: 0, padding: R.xPad, color: '#000',
                        font: {size: 20, lineHeight: '20px'},
                        callback: function (v) { return xLabels[c].indexOf(v) >= 0 ? String(v) : ''; }
                    },
                    title: {display: true, text: xTitle, color: '#000', font: {size: 19.5, lineHeight: '22px'}, padding: {top: 0, bottom: 0}}
                },
                y: {
                    type: 'linear', min: R.min, max: R.max,
                    grid: {display: false, drawTicks: false}, border: {display: false},
                    afterBuildTicks: function (s) { s.ticks = R.ticks.map(function (v) { return {value: v}; }); },
                    afterFit: function (s) { s.width = YAXIS_W; },
                    ticks: {
                        autoSkip: false, padding: R.yPad, color: '#000',
                        font: {size: R.tickSize, lineHeight: '20px'},
                        callback: function (v) { return Number(v).toFixed(R.dec); }
                    },
                    title: {display: true, text: yTitles[r], color: '#000', font: {size: 19.5, lineHeight: '22px'}, padding: {top: R.yTitlePad, bottom: 0}}
                }
            }
        },
        plugins: [framePlugin].concat(extra || [])
    });
}

// row 1: p_ex, p_c and their ratio
[ct1Rows, ct2Rows, ct3Rows, ct4Rows].forEach(function (rowsData, c) {
    makePanel(0, c, [
        dots('p_c', pts(rowsData, 2), RED),
        dots('p_ex', pts(rowsData, 1), BLACK),
        dots('p_ex/p_c', pts(rowsData, 3), BLUE),
        {
            label: 'ref', data: [{x: xRanges[c][0], y: refRatio}, {x: xRanges[c][1], y: refRatio}],
            showLine: true, borderColor: '#8a8a8a', borderWidth: 1.5, borderDash: [9, 5], pointRadius: 0
        }
    ]);
});

// row 2: SSA
[ssa1, ssa2, ssa3, ssa4].forEach(function (list, c) {
    makePanel(1, c, [dots('SSA', pts(list, 1), BLACK)]);
});

// row 3: density, CT vs SNOWPACK
[[dens1, snow1], [dens2, snow2], [dens3, snow3], [dens4, snow4]].forEach(function (pair, c) {
    makePanel(2, c, [
        {label: 'SNOWPACK', data: pts(pair[1], 1), showLine: true, borderColor: BLUE, borderWidth: 3.5, pointRadius: 0, tension: 0},
        dots('CT', pts(pair[0], 1), BLACK)
    ], c === 0 ? [innerLegend] : []);
});
</script>
</body>
</html>
